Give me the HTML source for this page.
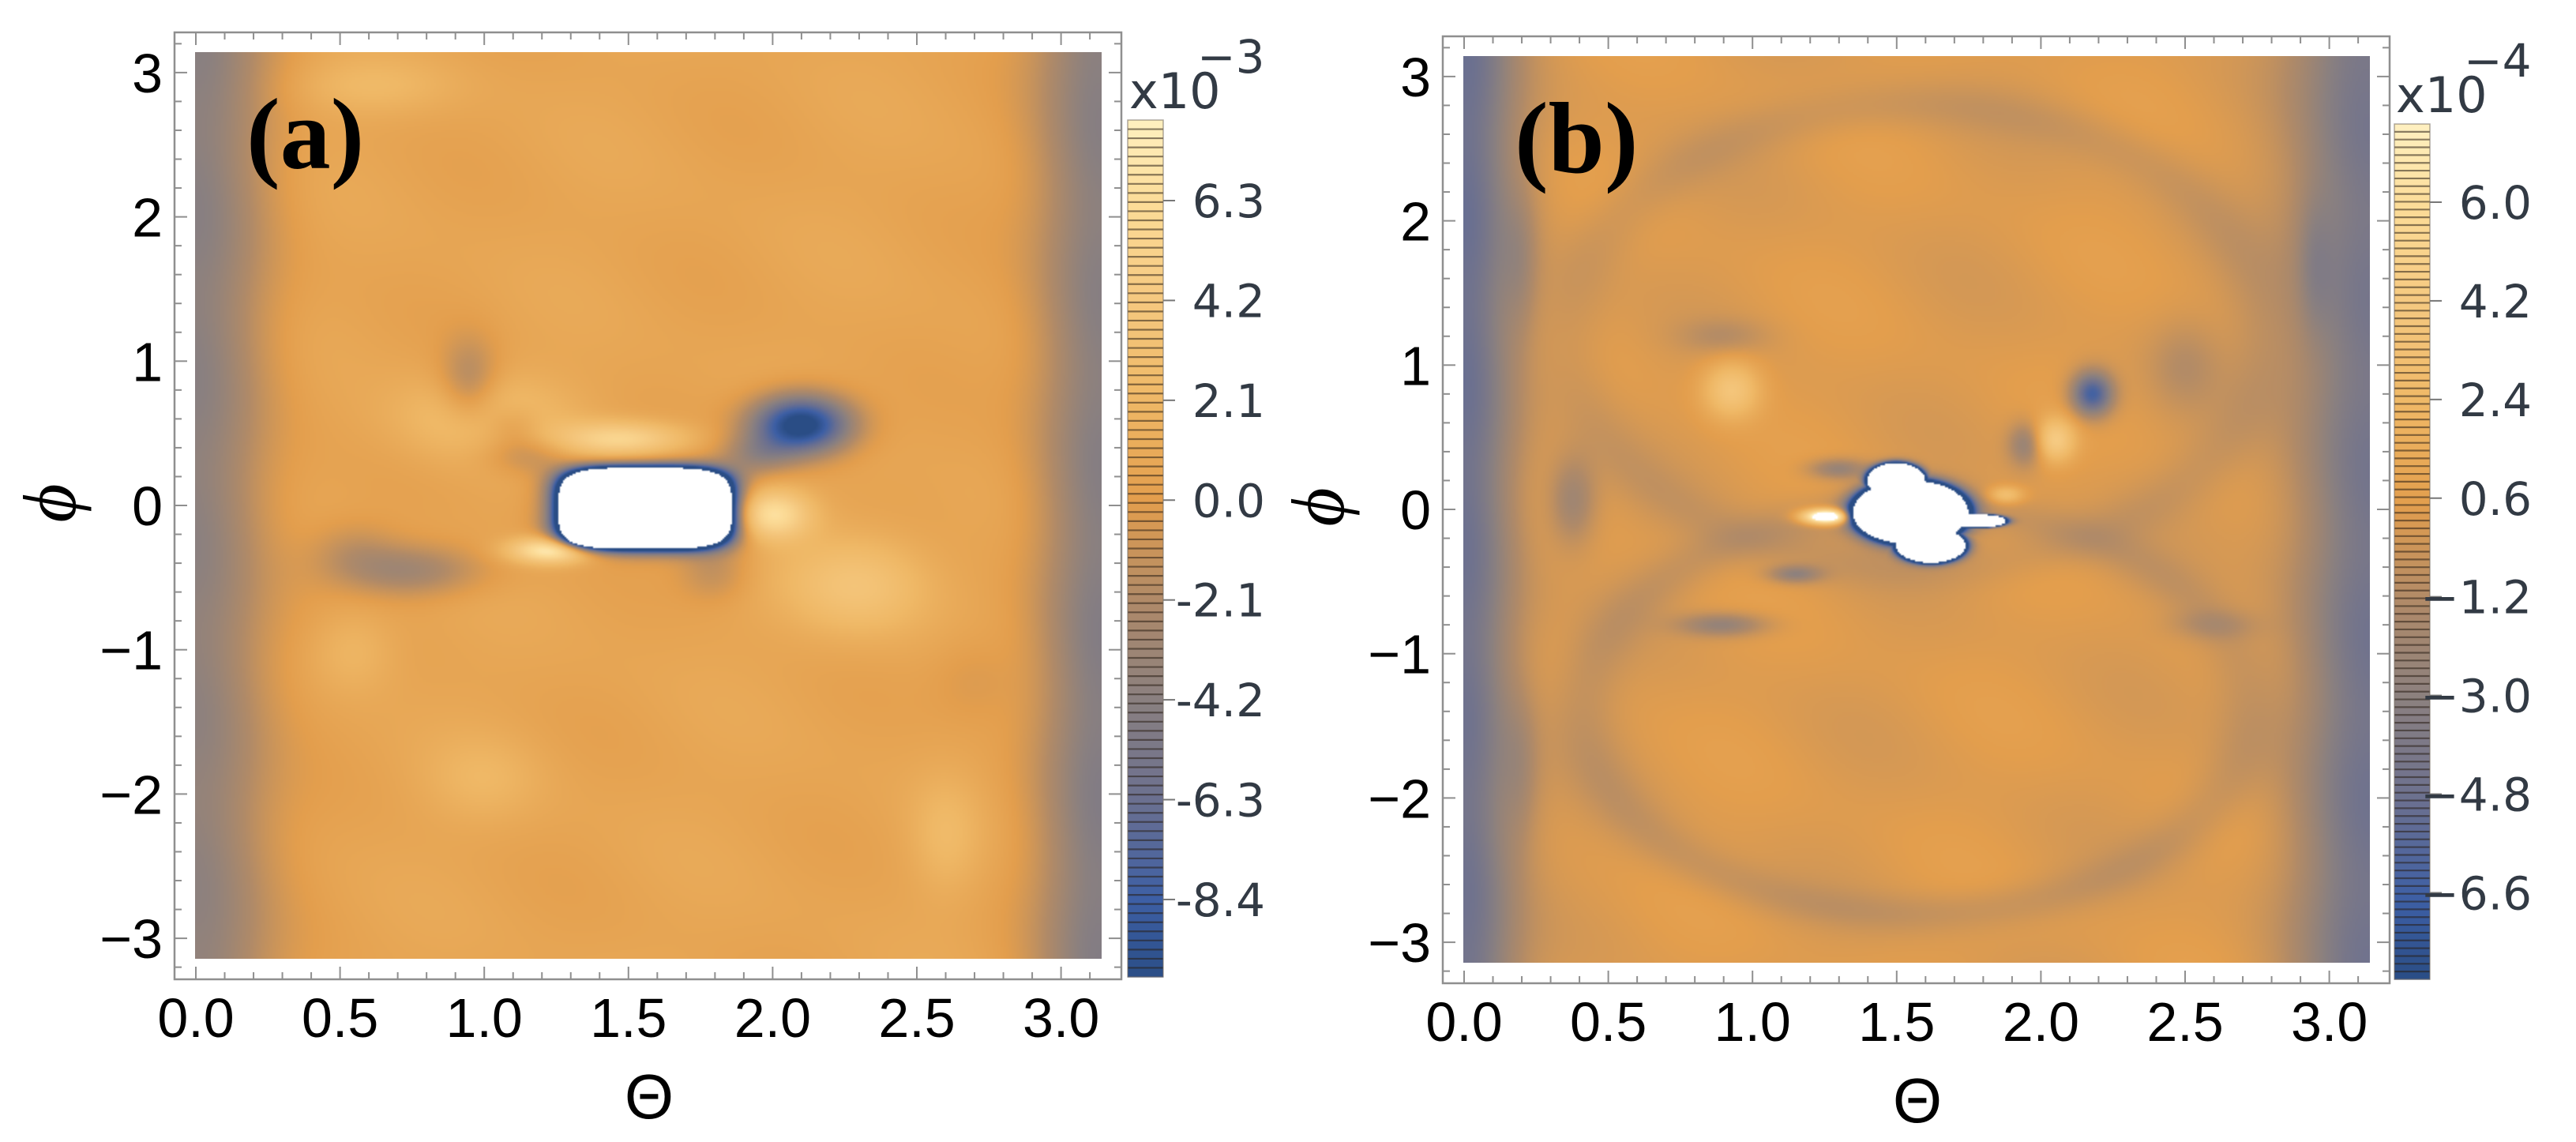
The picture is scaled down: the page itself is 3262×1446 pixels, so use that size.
<!DOCTYPE html>
<html><head><meta charset="utf-8">
<style>
html,body{margin:0;padding:0;background:#fff;}
#root{position:relative;width:3262px;height:1446px;overflow:hidden;background:#fff;}
canvas{position:absolute;}
svg{position:absolute;left:0;top:0;}
</style></head>
<body>
<div id="root">
<canvas id="cA" width="574" height="574" style="left:247px;top:66px;width:1148px;height:1148px"></canvas>
<canvas id="cB" width="574" height="574" style="left:1853px;top:71px;width:1148px;height:1148px"></canvas>
<svg id="ov" width="3262" height="1446" xmlns="http://www.w3.org/2000/svg"></svg>
</div>
<script>
// ---- data ----
const xTicks = [0.0, 0.5, 1.0, 1.5, 2.0, 2.5, 3.0];
const xTickLabels = ["0.0","0.5","1.0","1.5","2.0","2.5","3.0"];
const yTicks = [-3,-2,-1,0,1,2,3];
const yTickLabels = ["\u22123","\u22122","\u22121","0","1","2","3"];
const cbTicksA = [6.3,4.2,2.1,0.0,-2.1,-4.2,-6.3,-8.4];
const cbLabelsA = ["6.3","4.2","2.1","0.0","-2.1","-4.2","-6.3","-8.4"];
const cbTicksB = [6.0,4.2,2.4,0.6,-1.2,-3.0,-4.8,-6.6];
const cbLabelsB = ["6.0","4.2","2.4","0.6","\u22121.2","\u22123.0","\u22124.8","\u22126.6"];
const rangeA = [-10.1, 8.0];
const rangeB = [-8.2, 7.4];
// blobs: [theta, phi, amplitude, sigmaTheta, sigmaPhi]
const blobsA = [[1.24,-0.31,8,0.14,0.09],[1.48,0.46,5,0.22,0.12],[2.0,-0.06,6,0.13,0.17],[2.1,0.56,-12,0.17,0.2],
 [2.3,-0.55,3,0.25,0.35],[1.0,0.6,2.5,0.3,0.3],[0.75,-0.45,-3.5,0.25,0.18],[0.95,0.85,-3,0.1,0.3],
 [1.15,0.35,-2.5,0.15,0.14],[1.95,0.35,-3,0.13,0.14],[1.8,-0.45,-2,0.12,0.2],[0.55,-1.0,1.5,0.15,0.3],
 [2.6,-2.3,1.5,0.12,0.4],[1.0,-1.9,1.2,0.2,0.3],[0.6,2.9,1.5,0.3,0.2],[2.7,-1.2,-1,0.15,0.3],
 [1.1,0.55,-2,0.1,0.15],[0.55,-0.3,-1.5,0.15,0.2]];
const holesA = [[1.56,-0.02,0.30,0.28]];
const edgeA = [-4.6,0.25,-5.0,0.22];
const baseA = 0.6;
const blobsB = [[1.26,-0.05,12,0.08,0.05],[2.18,0.8,-7,0.07,0.15],[0.93,0.83,3.5,0.1,0.2],[2.05,0.48,4,0.07,0.15],
 [1.88,0.1,3,0.06,0.06],[0.9,-0.8,-3.0,0.15,0.08],[0.38,0.06,-2.5,0.08,0.3],[1.3,0.28,-3,0.1,0.07],
 [1.95,0.45,-3,0.06,0.15],[1.15,-0.45,-3,0.09,0.06],[2.6,-0.8,-1.2,0.15,0.1],[0.9,1.2,-1.2,0.15,0.12],
 [2.5,1.0,-1.2,0.12,0.3],[0.2,1.7,-1.2,0.06,0.5],[2.95,1.7,-1.2,0.06,0.5],[0.2,-1.8,-1.0,0.06,0.5]];
const ringsB = [[1.57,-1.4,1.15,1.4,-0.9,0.1],[1.57,1.2,1.2,1.6,-0.7,0.1]];
const holesB = [[1.55,-0.02,0.2,0.22],[1.5,0.2,0.1,0.12],[1.62,-0.25,0.12,0.12],[1.78,-0.08,0.1,0.045]];
const edgeB = [-5.0,0.18,-4.6,0.25];
const baseB = 0.3;
// colour stops on normalized scale
const stopT = [0,0.094,0.21,0.326,0.442,0.558,0.674,0.79,0.906,1];
const stopC = [[42,77,133],[61,95,165],[107,112,144],[138,128,128],[176,138,104],[227,158,77],[239,184,102],[245,200,127],[252,220,152],[255,240,192]];

function col(t){
  if(!(t>0)) return stopC[0];
  if(t>=1) return stopC[stopC.length-1];
  for(let i=1;i<stopT.length;i++){ if(t<=stopT[i]){ const f=(t-stopT[i-1])/(stopT[i]-stopT[i-1]); const a=stopC[i-1],b=stopC[i]; return [a[0]+(b[0]-a[0])*f,a[1]+(b[1]-a[1])*f,a[2]+(b[2]-a[2])*f]; } }
  return stopC[stopC.length-1];
}
function drawField(id, blobs, holes, holeExp, rings, edge, base, range){
  const cv=document.getElementById(id), ctx=cv.getContext('2d');
  const W=cv.width,H=cv.height, img=ctx.createImageData(W,H);
  for(let j=0;j<H;j++){
    const ph=Math.PI-(j+0.5)/H*2*Math.PI;
    for(let i=0;i<W;i++){
      const th=(i+0.5)/W*Math.PI;
      let v=base+edge[0]*Math.exp(-Math.pow(th/edge[1],2))+edge[2]*Math.exp(-Math.pow((Math.PI-th)/edge[3],2));
      v+=0.35*Math.sin(6*th+2.3*ph)*Math.cos(3.1*ph-th);
      for(const b of blobs){ const dx=(th-b[0])/b[3], dy=(ph-b[1])/b[4]; v+=b[2]*Math.exp(-(dx*dx+dy*dy)); }
      for(const r of rings){ const rr=Math.sqrt(Math.pow((th-r[0])/r[2],2)+Math.pow((ph-r[1])/r[3],2)); v+=r[4]*Math.exp(-Math.pow((rr-1)/r[5],2)); }
      let dmin=1e9;
      for(const h of holes){ const d=Math.pow(Math.pow(Math.abs((th-h[0])/h[2]),holeExp)+Math.pow(Math.abs((ph-h[1])/h[3]),holeExp),1/holeExp); if(d<dmin)dmin=d; }
      const k=(j*W+i)*4; let c;
      if(dmin<1){ c=[255,255,255]; }
      else {
        v+=-16*Math.exp(-(dmin-1)/0.12);
        if(v>range[1]) c=[255,255,255]; else c=col((v-range[0])/(range[1]-range[0]));
      }
      img.data[k]=c[0];img.data[k+1]=c[1];img.data[k+2]=c[2];img.data[k+3]=255;
    }
  }
  ctx.putImageData(img,0,0);
}
drawField('cA',blobsA,holesA,4,[],edgeA,baseA,rangeA);
drawField('cB',blobsB,holesB,2,ringsB,edgeB,baseB,rangeB);

// ---- axes ----
const NS='http://www.w3.org/2000/svg';
const svg=document.getElementById('ov');
function mk(tag,attrs,parent){ const e=document.createElementNS(NS,tag); for(const k in attrs) e.setAttribute(k,attrs[k]); (parent||svg).appendChild(e); return e; }

function panel(dx,dy,key,tag,cbx,cbTop,cbBot,cbTicks,cbLabels,cbRef,cbPx,cbRange,expo,stripes){
  const g=mk('g',{});
  
  
  const X=t=>dx+248+t*365.2, Y=p=>dy+640-p*182.7;
  const fl=dx+221, fr=dx+1420, ft=dy+41, fb=dy+1240;
  const fr_=mk('rect',{x:fl,y:ft,width:fr-fl,height:fb-ft,fill:'none',stroke:'#8f8f8f','stroke-width':2.5},g);
  
  
  for(let i=0;i<=31;i++){ const t=i*0.1; const maj=(i%5===0); const L=maj?16:9; const x=X(t);
    mk('line',{x1:x,y1:fb,x2:x,y2:fb-L,stroke:'#8f8f8f','stroke-width':2},g);
    mk('line',{x1:x,y1:ft,x2:x,y2:ft+L,stroke:'#8f8f8f','stroke-width':2},g); }
  for(let i=-16;i<=16;i++){ const p=i*0.2; const maj=(i%5===0); const L=maj?16:9; const y=Y(p);
    mk('line',{x1:fl,y1:y,x2:fl+L,y2:y,stroke:'#8f8f8f','stroke-width':2},g);
    mk('line',{x1:fr,y1:y,x2:fr-L,y2:y,stroke:'#8f8f8f','stroke-width':2},g); }
  xTicks.forEach((t,i)=>{ const e=mk('text',{x:X(t),y:dy+1313,'text-anchor':'middle','font-family':'Liberation Sans, Arial, sans-serif','font-size':70,fill:'#000'},g); e.textContent=xTickLabels[i];
    
     });
  yTicks.forEach((p,i)=>{ const e=mk('text',{x:dx+206,y:Y(p)+25,'text-anchor':'end','font-family':'Liberation Sans, Arial, sans-serif','font-size':70,fill:'#000'},g); e.textContent=yTickLabels[i];
    
     });
  const xt=mk('text',{x:dx+822,y:dy+1416,'text-anchor':'middle','font-family':'Liberation Sans, Arial, sans-serif','font-size':80,fill:'#000'},g); xt.textContent='\u0398';
  
  
  const yt=mk('text',{x:0,y:0,'text-anchor':'middle','font-family':'Liberation Serif, serif','font-style':'italic','font-size':95,fill:'#000',transform:'translate('+(dx+95)+','+(dy+637)+') rotate(-90)'},g); yt.textContent='\u03D5';
  
  
  const lb=mk('text',{x:dx+312,y:dy+213,'font-family':'Liberation Serif, serif','font-weight':'bold','font-size':128,fill:'#000'},g); lb.textContent=tag;
  
  
  const cb=mk('g',{},g);
  
  
  const cy=v=>cbRef+(cbTicks[0]-v)*cbPx;
  const h=(cbBot-cbTop)/stripes;
  for(let s=0;s<stripes;s++){ const y0=cbTop+s*h; const vMid=cbTicks[0]-((y0+h/2)-cbRef)/cbPx; const c=col((vMid-cbRange[0])/(cbRange[1]-cbRange[0]));
    mk('rect',{x:cbx,y:y0,width:45,height:h+0.5,fill:'rgb('+c.map(Math.round).join(',')+')'},cb);
    if(s>0) mk('line',{x1:cbx,y1:y0,x2:cbx+45,y2:y0,stroke:'rgba(40,30,20,0.55)','stroke-width':2.2},cb); }
  mk('rect',{x:cbx,y:cbTop,width:45,height:cbBot-cbTop,fill:'none',stroke:'rgba(120,110,100,0.6)','stroke-width':1.5},cb);
  cbTicks.forEach((v,i)=>{ const y=cy(v); mk('line',{x1:cbx+45,y1:y,x2:cbx+60,y2:y,stroke:'#777','stroke-width':2},cb);
    const e=mk('text',{x:cbx+174,y:y+21,'text-anchor':'end','font-family':'DejaVu Sans, sans-serif','font-size':58,fill:'#323a44'},cb); e.textContent=cbLabels[i];
    
     });
  const ex=mk('text',{x:cbx+2,y:cbTop-15,'font-family':'DejaVu Sans, sans-serif','font-size':62,fill:'#323a44'},cb); ex.textContent='x10';
  
  
  const sp=mk('text',{x:cbx+88,y:cbTop-60,'font-family':'DejaVu Sans, sans-serif','font-size':58,fill:'#323a44'},cb); sp.textContent=expo;
  
  
}
panel(0,0,'a','(a)',1428,152,1237,cbTicksA,cbLabelsA,254,60.2,rangeA,'\u22123',94);
panel(1606,5,'b','(b)',3032,157,1240,cbTicksB,cbLabelsB,256,69.4,rangeB,'\u22124',110);
</script>
</body></html>
